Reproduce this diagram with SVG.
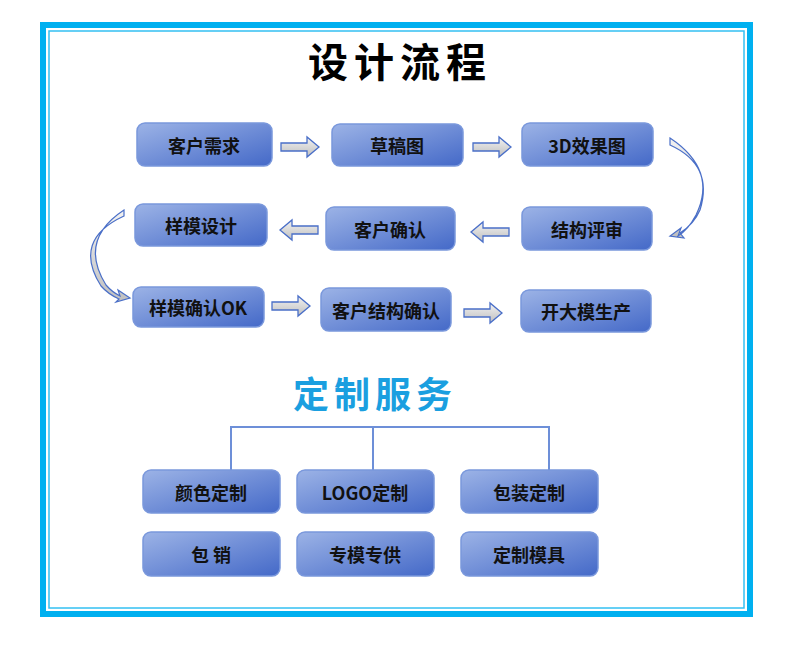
<svg xmlns="http://www.w3.org/2000/svg" width="790" height="659" viewBox="0 0 790 659">
<defs>
<linearGradient id="g" x1="0" y1="0" x2="1" y2="1"><stop offset="0" stop-color="#9cb3e6"/><stop offset="1" stop-color="#4469c8"/></linearGradient>
<linearGradient id="ga" x1="0" y1="0" x2="0" y2="1"><stop offset="0" stop-color="#f2f2f2"/><stop offset="1" stop-color="#bfbfbf"/></linearGradient>
<path id="ar" d="M0,-4 H26 V-10 L38,0 L26,10 V4 H0 Z"/>
</defs>
<style>
.b{fill:url(#g);stroke:#7a98dc;stroke-width:1.5}
.t{font-family:"Noto Sans CJK SC","Liberation Sans",sans-serif;font-weight:bold;font-size:18px;fill:#111;text-anchor:middle;dominant-baseline:central}
.a{fill:url(#ga);stroke:#4a6fc8;stroke-width:1.3}
.c{fill:none;stroke:#6d8fd8;stroke-width:1.5}
</style>
<rect width="790" height="659" fill="#fff"/>
<rect x="43" y="25" width="707" height="589" fill="none" stroke="#00b0f0" stroke-width="6"/>
<rect x="49" y="31" width="695" height="577" fill="none" stroke="#33c0f2" stroke-width="1.5"/>
<text x="400" y="60" font-family="'Noto Sans CJK SC',sans-serif" font-weight="bold" font-size="40" text-anchor="middle" dominant-baseline="central" letter-spacing="6" fill="#000">设计流程</text>
<g id="connectors">
<use href="#ar" class="a" transform="translate(281,147)"/>
<use href="#ar" class="a" transform="translate(473,147)"/>
<use href="#ar" class="a" transform="translate(509,232) scale(-1,1)"/>
<use href="#ar" class="a" transform="translate(318,230) scale(-1,1)"/>
<use href="#ar" class="a" transform="translate(272,306)"/>
<use href="#ar" class="a" transform="translate(464,313)"/>
<path d="M670,138 Q718,170 696,215 Q688,230 678,236 L681,228 L670,236 L684,238 L680,233 Q694,224 700,210 Q714,165 670,145 Z" fill="url(#ga)" stroke="#4a6fc8" stroke-width="1.2"/>
<path d="M124,210 Q78,240 106,285 Q112,292 120,296 L118,290 L130,298 L116,302 L119,299 Q108,294 101,286 Q72,240 124,216 Z" fill="url(#ga)" stroke="#4a6fc8" stroke-width="1.2"/>
<path d="M231,470 V427 H549 V470 M373,427 V470" fill="none" stroke="#6d8fd8" stroke-width="2"/>
</g>
<g id="n1"><rect class="b" x="137" y="123" width="135" height="43" rx="8"/><text class="t" x="204" y="145">客户需求</text></g>
<g id="n2"><rect class="b" x="332" y="124" width="131" height="42" rx="8"/><text class="t" x="397" y="145">草稿图</text></g>
<g id="n3"><rect class="b" x="522" y="123" width="131" height="43" rx="8"/><text class="t" x="587" y="145">3D效果图</text></g>
<g id="n4"><rect class="b" x="522" y="207" width="130" height="43" rx="8"/><text class="t" x="587" y="229">结构评审</text></g>
<g id="n5"><rect class="b" x="326" y="207" width="129" height="43" rx="8"/><text class="t" x="390" y="229">客户确认</text></g>
<g id="n6"><rect class="b" x="135" y="204" width="132" height="42" rx="8"/><text class="t" x="201" y="225">样模设计</text></g>
<g id="n7"><rect class="b" x="133" y="287" width="131" height="40" rx="8"/><text class="t" x="198" y="307">样模确认OK</text></g>
<g id="n8"><rect class="b" x="321" y="288" width="130" height="43" rx="8"/><text class="t" x="386" y="310">客户结构确认</text></g>
<g id="n9"><rect class="b" x="521" y="290" width="130" height="42" rx="8"/><text class="t" x="586" y="311">开大模生产</text></g>
<text x="375" y="392" font-family="'Noto Sans CJK SC',sans-serif" font-weight="bold" font-size="36" text-anchor="middle" dominant-baseline="central" letter-spacing="5" fill="#1a9fe0">定制服务</text>
<g id="s1"><rect class="b" x="143" y="470" width="137" height="43" rx="8"/><text class="t" x="211" y="492">颜色定制</text></g>
<g id="s2"><rect class="b" x="297" y="470" width="137" height="43" rx="8"/><text class="t" x="365" y="492">LOGO定制</text></g>
<g id="s3"><rect class="b" x="461" y="470" width="137" height="43" rx="8"/><text class="t" x="529" y="492">包装定制</text></g>
<g id="s4"><rect class="b" x="143" y="532" width="137" height="44" rx="8"/><text class="t" x="211" y="554">包 销</text></g>
<g id="s5"><rect class="b" x="297" y="532" width="137" height="44" rx="8"/><text class="t" x="365" y="554">专模专供</text></g>
<g id="s6"><rect class="b" x="461" y="532" width="137" height="44" rx="8"/><text class="t" x="529" y="554">定制模具</text></g>
</svg>
